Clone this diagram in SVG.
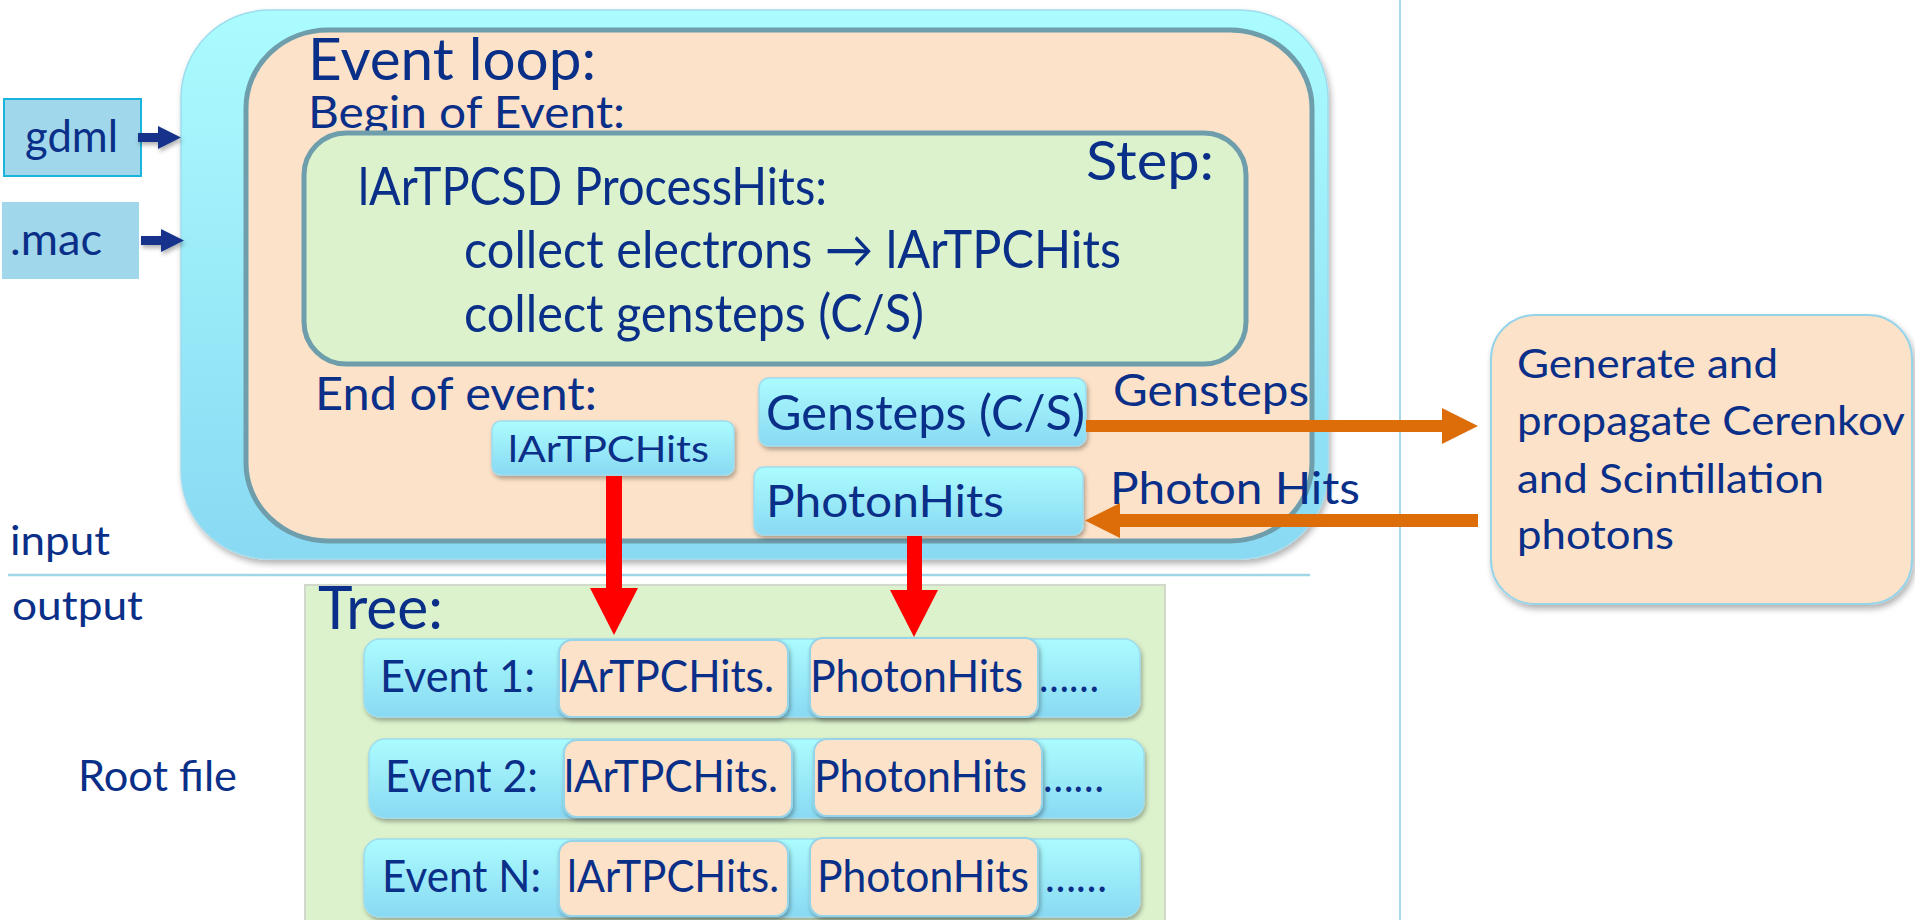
<svg xmlns="http://www.w3.org/2000/svg" width="1915" height="920" viewBox="0 0 1915 920">
<style>
.t{font-family:Lato,"Open Sans","Liberation Sans",sans-serif;fill:#0a2f88}
.peach{fill:#fce2c8}
.green{fill:#dbf2cc}
.frame{stroke:#6e9dab;stroke-width:5}
.cy{fill:url(#cyg);stroke:#9fdcee;stroke-width:1.5}
.pb{fill:#fce2c8;stroke:#96d4ea;stroke-width:2}
.navy{fill:#12328a}
.red{fill:#ff0000}
.orange{fill:#dc6d08}
</style>
<defs>
<linearGradient id="cyg" x1="0" y1="0" x2="0" y2="1">
<stop offset="0" stop-color="#abfcfe"/>
<stop offset="1" stop-color="#89d9f3"/>
</linearGradient>
<filter id="sh" x="-10%" y="-10%" width="125%" height="135%">
<feDropShadow dx="2" dy="4" stdDeviation="3" flood-color="#000" flood-opacity="0.3"/>
</filter>
<filter id="shs" x="-20%" y="-20%" width="140%" height="160%">
<feDropShadow dx="1.5" dy="3" stdDeviation="2" flood-color="#000" flood-opacity="0.3"/>
</filter>
</defs>

<rect width="1915" height="920" fill="#ffffff"/>

<!-- dividers -->
<line x1="1400" y1="0" x2="1400" y2="920" stroke="#a6d9ea" stroke-width="2"/>
<line x1="8" y1="575" x2="1310" y2="575" stroke="#9fd6e8" stroke-width="2.5"/>

<g id="outer-loop">
<rect x="181" y="10" width="1147" height="549" rx="88" ry="88" class="cy" filter="url(#sh)"/>
</g>
<g id="event-loop">
<rect x="246" y="30" width="1066" height="511" rx="82" ry="78" class="peach frame"/>
<text class="t" x="308" y="80" font-size="59" textLength="288" lengthAdjust="spacingAndGlyphs">Event loop:</text>
<text class="t" x="308" y="128" font-size="45" textLength="317" lengthAdjust="spacingAndGlyphs">Begin of Event:</text>
<text class="t" x="315" y="410" font-size="47" textLength="282" lengthAdjust="spacingAndGlyphs">End of event:</text>
</g>
<g id="step">
<rect x="304" y="133" width="942" height="231" rx="42" ry="42" class="green frame"/>
<text class="t" x="1086" y="180" font-size="55" textLength="128" lengthAdjust="spacingAndGlyphs">Step:</text>
<text class="t" x="358" y="205" font-size="52" textLength="469" lengthAdjust="spacingAndGlyphs">lArTPCSD ProcessHits:</text>
<text class="t" x="464" y="268" font-size="52" textLength="657" lengthAdjust="spacingAndGlyphs">collect electrons → lArTPCHits</text>
<text class="t" x="464" y="332" font-size="52" textLength="460" lengthAdjust="spacingAndGlyphs">collect gensteps (C/S)</text>
</g>

<g id="gdml">
<rect x="4" y="99" width="137" height="77" fill="#a0d7ea" stroke="#1ab4dc" stroke-width="2"/>
<text class="t" x="25" y="152" font-size="45" textLength="93" lengthAdjust="spacingAndGlyphs">gdml</text>
</g>
<g id="mac">
<rect x="2" y="202" width="137" height="77" fill="#a0d7ea"/>
<text class="t" x="10" y="255" font-size="45" textLength="92" lengthAdjust="spacingAndGlyphs">.mac</text>
</g>

<g id="hits-box">
<rect x="492" y="421" width="242" height="54" rx="9" class="cy" filter="url(#shs)"/>
<text class="t" x="508" y="462" font-size="36" textLength="201" lengthAdjust="spacingAndGlyphs">lArTPCHits</text>
</g>
<g id="gensteps-box">
<rect x="759" y="378" width="327" height="68" rx="10" class="cy" filter="url(#shs)"/>
<text class="t" x="766" y="430" font-size="48" textLength="319" lengthAdjust="spacingAndGlyphs">Gensteps (C/S)</text>
</g>
<g id="photonhits-box">
<rect x="754" y="467" width="329" height="68" rx="10" class="cy" filter="url(#shs)"/>
<text class="t" x="766" y="517" font-size="44" textLength="238" lengthAdjust="spacingAndGlyphs">PhotonHits</text>
</g>

<g id="labels">
<text class="t" x="10" y="555" font-size="40" textLength="100" lengthAdjust="spacingAndGlyphs">input</text>
<text class="t" x="12" y="620" font-size="40" textLength="131" lengthAdjust="spacingAndGlyphs">output</text>
<text class="t" x="78" y="791" font-size="43" textLength="159" lengthAdjust="spacingAndGlyphs">Root file</text>
<text class="t" x="1113" y="406" font-size="44" textLength="196" lengthAdjust="spacingAndGlyphs">Gensteps</text>
<text class="t" x="1110" y="504" font-size="44" textLength="250" lengthAdjust="spacingAndGlyphs">Photon Hits</text>
</g>

<g id="generate">
<rect x="1491" y="315" width="421" height="289" rx="44" ry="44" class="pb" filter="url(#sh)"/>
<text class="t" x="1517" y="378" font-size="41" textLength="261" lengthAdjust="spacingAndGlyphs">Generate and</text>
<text class="t" x="1517" y="435" font-size="41" textLength="388" lengthAdjust="spacingAndGlyphs">propagate Cerenkov</text>
<text class="t" x="1517" y="493" font-size="41" textLength="307" lengthAdjust="spacingAndGlyphs">and Scintillation</text>
<text class="t" x="1517" y="549" font-size="41" textLength="157" lengthAdjust="spacingAndGlyphs">photons</text>
</g>

<g id="tree">
<rect x="305" y="585" width="860" height="345" class="green" stroke="#d2d8cc" stroke-width="2"/>
<text class="t" x="318" y="629" font-size="60" textLength="125" lengthAdjust="spacingAndGlyphs">Tree:</text>
</g>

<g id="event1">
<rect x="364" y="639" width="776" height="78" rx="16" class="cy" filter="url(#shs)"/>
<rect x="559" y="640" width="229" height="77" rx="13" class="pb" filter="url(#shs)"/>
<rect x="810" y="638" width="228" height="79" rx="13" class="pb" filter="url(#shs)"/>
<text class="t" x="380" y="692" font-size="44" textLength="155" lengthAdjust="spacingAndGlyphs">Event 1:</text>
<text class="t" x="559" y="692" font-size="44" textLength="215" lengthAdjust="spacingAndGlyphs">lArTPCHits.</text>
<text class="t" x="810" y="692" font-size="44" textLength="213" lengthAdjust="spacingAndGlyphs">PhotonHits</text>
<text class="t" x="1039" y="692" font-size="44" textLength="60" lengthAdjust="spacingAndGlyphs">……</text>
</g>
<g id="event2">
<rect x="369" y="739" width="775" height="79" rx="16" class="cy" filter="url(#shs)"/>
<rect x="564" y="740" width="228" height="77" rx="13" class="pb" filter="url(#shs)"/>
<rect x="814" y="739" width="228" height="77" rx="13" class="pb" filter="url(#shs)"/>
<text class="t" x="385" y="792" font-size="44" textLength="153" lengthAdjust="spacingAndGlyphs">Event 2:</text>
<text class="t" x="564" y="792" font-size="44" textLength="214" lengthAdjust="spacingAndGlyphs">lArTPCHits.</text>
<text class="t" x="814" y="792" font-size="44" textLength="213" lengthAdjust="spacingAndGlyphs">PhotonHits</text>
<text class="t" x="1043" y="792" font-size="44" textLength="61" lengthAdjust="spacingAndGlyphs">……</text>
</g>
<g id="eventN">
<rect x="364" y="839" width="776" height="78" rx="16" class="cy" filter="url(#shs)"/>
<rect x="559" y="841" width="229" height="75" rx="13" class="pb" filter="url(#shs)"/>
<rect x="810" y="838" width="228" height="78" rx="13" class="pb" filter="url(#shs)"/>
<text class="t" x="382" y="892" font-size="44" textLength="159" lengthAdjust="spacingAndGlyphs">Event N:</text>
<text class="t" x="567" y="892" font-size="44" textLength="212" lengthAdjust="spacingAndGlyphs">lArTPCHits.</text>
<text class="t" x="817" y="892" font-size="44" textLength="212" lengthAdjust="spacingAndGlyphs">PhotonHits</text>
<text class="t" x="1045" y="892" font-size="44" textLength="62" lengthAdjust="spacingAndGlyphs">……</text>
</g>

<g id="connectors">
<polygon class="navy" filter="url(#shs)" points="138,133 158,133 158,126 181,137.5 158,149 158,142 138,142"/>
<polygon class="navy" filter="url(#shs)" points="141,236 161,236 161,229 184,240.5 161,252 161,245 141,245"/>
<polygon class="orange" points="1086,420 1442,420 1442,408 1478,426 1442,444 1442,432 1086,432"/>
<polygon class="orange" points="1478,514 1120,514 1120,503 1085,520.5 1120,538 1120,527 1478,527"/>
<polygon class="red" points="606,476 622,476 622,588 638,588 614,635 590,588 606,588"/>
<polygon class="red" points="907,536 922,536 922,590 938,590 914,637 890,590 907,590"/>
</g>
</svg>
